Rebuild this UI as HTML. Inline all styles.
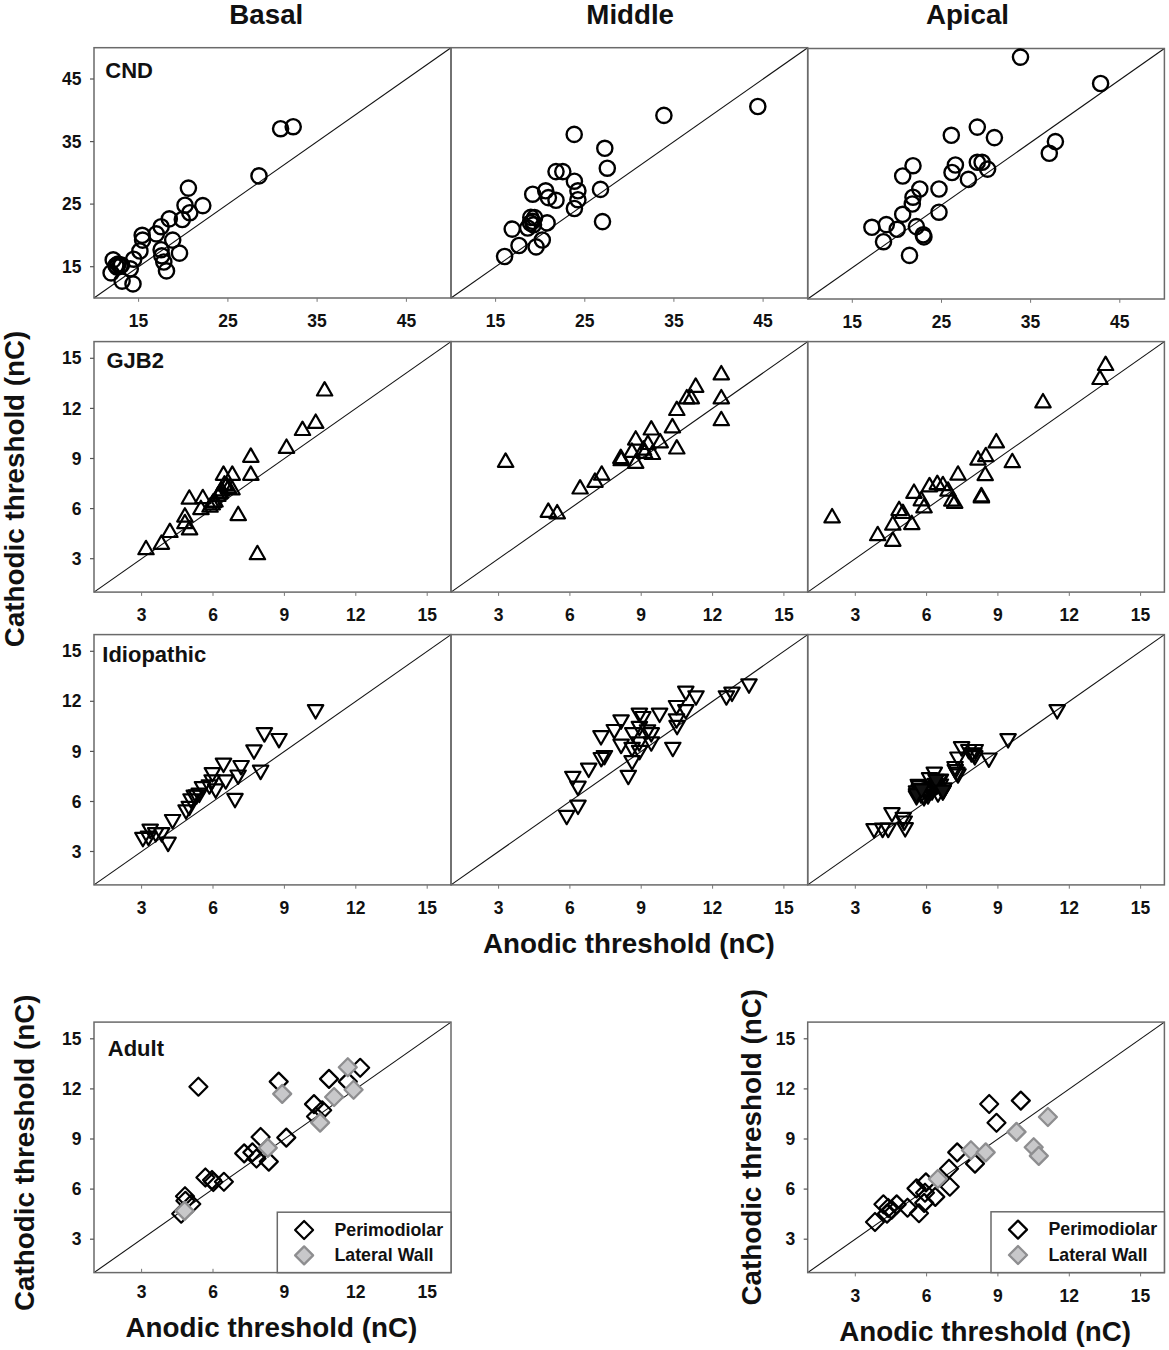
<!DOCTYPE html>
<html><head><meta charset="utf-8"><title>Threshold scatter plots</title>
<style>
html,body{margin:0;padding:0;background:#fff;}
body{width:1169px;height:1350px;overflow:hidden;}
svg{display:block;}
text{font-family:"Liberation Sans", sans-serif;font-weight:bold;fill:#111;}
.tk{font-size:17.5px;}
.pl{font-size:22px;}
.hd{font-size:27.7px;}
.ax{font-size:27.8px;}
.lg{font-size:17.8px;}
</style></head>
<body>
<svg width="1169" height="1350" viewBox="0 0 1169 1350">
<rect width="100%" height="100%" fill="#fff"/>
<line x1="94.0" y1="298.0" x2="451.0" y2="47.7" stroke="#111" stroke-width="1.1"/>
<rect x="94.0" y="47.7" width="357.0" height="250.3" fill="none" stroke="#6a6a6a" stroke-width="1.5"/>
<line x1="138.6" y1="298.0" x2="138.6" y2="301.8" stroke="#777" stroke-width="1"/>
<text x="138.6" y="327.2" text-anchor="middle" class="tk">15</text>
<line x1="227.9" y1="298.0" x2="227.9" y2="301.8" stroke="#777" stroke-width="1"/>
<text x="227.9" y="327.2" text-anchor="middle" class="tk">25</text>
<line x1="317.1" y1="298.0" x2="317.1" y2="301.8" stroke="#777" stroke-width="1"/>
<text x="317.1" y="327.2" text-anchor="middle" class="tk">35</text>
<line x1="406.4" y1="298.0" x2="406.4" y2="301.8" stroke="#777" stroke-width="1"/>
<text x="406.4" y="327.2" text-anchor="middle" class="tk">45</text>
<line x1="90.0" y1="266.7" x2="94.0" y2="266.7" stroke="#555" stroke-width="1.2"/>
<text x="81.5" y="272.8" text-anchor="end" class="tk">15</text>
<line x1="90.0" y1="204.1" x2="94.0" y2="204.1" stroke="#555" stroke-width="1.2"/>
<text x="81.5" y="210.2" text-anchor="end" class="tk">25</text>
<line x1="90.0" y1="141.6" x2="94.0" y2="141.6" stroke="#555" stroke-width="1.2"/>
<text x="81.5" y="147.7" text-anchor="end" class="tk">35</text>
<line x1="90.0" y1="79.0" x2="94.0" y2="79.0" stroke="#555" stroke-width="1.2"/>
<text x="81.5" y="85.1" text-anchor="end" class="tk">45</text>
<line x1="451.0" y1="298.0" x2="807.7" y2="47.7" stroke="#111" stroke-width="1.1"/>
<rect x="451.0" y="47.7" width="356.7" height="250.3" fill="none" stroke="#6a6a6a" stroke-width="1.5"/>
<line x1="495.6" y1="298.0" x2="495.6" y2="301.8" stroke="#777" stroke-width="1"/>
<text x="495.6" y="327.2" text-anchor="middle" class="tk">15</text>
<line x1="584.8" y1="298.0" x2="584.8" y2="301.8" stroke="#777" stroke-width="1"/>
<text x="584.8" y="327.2" text-anchor="middle" class="tk">25</text>
<line x1="673.9" y1="298.0" x2="673.9" y2="301.8" stroke="#777" stroke-width="1"/>
<text x="673.9" y="327.2" text-anchor="middle" class="tk">35</text>
<line x1="763.1" y1="298.0" x2="763.1" y2="301.8" stroke="#777" stroke-width="1"/>
<text x="763.1" y="327.2" text-anchor="middle" class="tk">45</text>
<line x1="807.7" y1="299.0" x2="1164.4" y2="48.5" stroke="#111" stroke-width="1.1"/>
<rect x="807.7" y="48.5" width="356.7" height="250.5" fill="none" stroke="#6a6a6a" stroke-width="1.5"/>
<line x1="852.3" y1="299.0" x2="852.3" y2="302.8" stroke="#777" stroke-width="1"/>
<text x="852.3" y="328.2" text-anchor="middle" class="tk">15</text>
<line x1="941.5" y1="299.0" x2="941.5" y2="302.8" stroke="#777" stroke-width="1"/>
<text x="941.5" y="328.2" text-anchor="middle" class="tk">25</text>
<line x1="1030.6" y1="299.0" x2="1030.6" y2="302.8" stroke="#777" stroke-width="1"/>
<text x="1030.6" y="328.2" text-anchor="middle" class="tk">35</text>
<line x1="1119.8" y1="299.0" x2="1119.8" y2="302.8" stroke="#777" stroke-width="1"/>
<text x="1119.8" y="328.2" text-anchor="middle" class="tk">45</text>
<line x1="94.0" y1="592.1" x2="451.0" y2="341.6" stroke="#111" stroke-width="1.1"/>
<rect x="94.0" y="341.6" width="357.0" height="250.5" fill="none" stroke="#6a6a6a" stroke-width="1.5"/>
<line x1="141.6" y1="592.1" x2="141.6" y2="595.9" stroke="#777" stroke-width="1"/>
<text x="141.6" y="621.3" text-anchor="middle" class="tk">3</text>
<line x1="213.0" y1="592.1" x2="213.0" y2="595.9" stroke="#777" stroke-width="1"/>
<text x="213.0" y="621.3" text-anchor="middle" class="tk">6</text>
<line x1="284.4" y1="592.1" x2="284.4" y2="595.9" stroke="#777" stroke-width="1"/>
<text x="284.4" y="621.3" text-anchor="middle" class="tk">9</text>
<line x1="355.8" y1="592.1" x2="355.8" y2="595.9" stroke="#777" stroke-width="1"/>
<text x="355.8" y="621.3" text-anchor="middle" class="tk">12</text>
<line x1="427.2" y1="592.1" x2="427.2" y2="595.9" stroke="#777" stroke-width="1"/>
<text x="427.2" y="621.3" text-anchor="middle" class="tk">15</text>
<line x1="90.0" y1="558.7" x2="94.0" y2="558.7" stroke="#555" stroke-width="1.2"/>
<text x="81.5" y="564.8" text-anchor="end" class="tk">3</text>
<line x1="90.0" y1="508.6" x2="94.0" y2="508.6" stroke="#555" stroke-width="1.2"/>
<text x="81.5" y="514.7" text-anchor="end" class="tk">6</text>
<line x1="90.0" y1="458.5" x2="94.0" y2="458.5" stroke="#555" stroke-width="1.2"/>
<text x="81.5" y="464.6" text-anchor="end" class="tk">9</text>
<line x1="90.0" y1="408.4" x2="94.0" y2="408.4" stroke="#555" stroke-width="1.2"/>
<text x="81.5" y="414.5" text-anchor="end" class="tk">12</text>
<line x1="90.0" y1="358.3" x2="94.0" y2="358.3" stroke="#555" stroke-width="1.2"/>
<text x="81.5" y="364.4" text-anchor="end" class="tk">15</text>
<line x1="451.0" y1="592.1" x2="807.7" y2="341.6" stroke="#111" stroke-width="1.1"/>
<rect x="451.0" y="341.6" width="356.7" height="250.5" fill="none" stroke="#6a6a6a" stroke-width="1.5"/>
<line x1="498.6" y1="592.1" x2="498.6" y2="595.9" stroke="#777" stroke-width="1"/>
<text x="498.6" y="621.3" text-anchor="middle" class="tk">3</text>
<line x1="569.9" y1="592.1" x2="569.9" y2="595.9" stroke="#777" stroke-width="1"/>
<text x="569.9" y="621.3" text-anchor="middle" class="tk">6</text>
<line x1="641.2" y1="592.1" x2="641.2" y2="595.9" stroke="#777" stroke-width="1"/>
<text x="641.2" y="621.3" text-anchor="middle" class="tk">9</text>
<line x1="712.6" y1="592.1" x2="712.6" y2="595.9" stroke="#777" stroke-width="1"/>
<text x="712.6" y="621.3" text-anchor="middle" class="tk">12</text>
<line x1="783.9" y1="592.1" x2="783.9" y2="595.9" stroke="#777" stroke-width="1"/>
<text x="783.9" y="621.3" text-anchor="middle" class="tk">15</text>
<line x1="807.7" y1="592.1" x2="1164.4" y2="341.6" stroke="#111" stroke-width="1.1"/>
<rect x="807.7" y="341.6" width="356.7" height="250.5" fill="none" stroke="#6a6a6a" stroke-width="1.5"/>
<line x1="855.3" y1="592.1" x2="855.3" y2="595.9" stroke="#777" stroke-width="1"/>
<text x="855.3" y="621.3" text-anchor="middle" class="tk">3</text>
<line x1="926.6" y1="592.1" x2="926.6" y2="595.9" stroke="#777" stroke-width="1"/>
<text x="926.6" y="621.3" text-anchor="middle" class="tk">6</text>
<line x1="997.9" y1="592.1" x2="997.9" y2="595.9" stroke="#777" stroke-width="1"/>
<text x="997.9" y="621.3" text-anchor="middle" class="tk">9</text>
<line x1="1069.3" y1="592.1" x2="1069.3" y2="595.9" stroke="#777" stroke-width="1"/>
<text x="1069.3" y="621.3" text-anchor="middle" class="tk">12</text>
<line x1="1140.6" y1="592.1" x2="1140.6" y2="595.9" stroke="#777" stroke-width="1"/>
<text x="1140.6" y="621.3" text-anchor="middle" class="tk">15</text>
<line x1="94.0" y1="884.9" x2="451.0" y2="634.6" stroke="#111" stroke-width="1.1"/>
<rect x="94.0" y="634.6" width="357.0" height="250.3" fill="none" stroke="#6a6a6a" stroke-width="1.5"/>
<line x1="141.6" y1="884.9" x2="141.6" y2="888.7" stroke="#777" stroke-width="1"/>
<text x="141.6" y="914.1" text-anchor="middle" class="tk">3</text>
<line x1="213.0" y1="884.9" x2="213.0" y2="888.7" stroke="#777" stroke-width="1"/>
<text x="213.0" y="914.1" text-anchor="middle" class="tk">6</text>
<line x1="284.4" y1="884.9" x2="284.4" y2="888.7" stroke="#777" stroke-width="1"/>
<text x="284.4" y="914.1" text-anchor="middle" class="tk">9</text>
<line x1="355.8" y1="884.9" x2="355.8" y2="888.7" stroke="#777" stroke-width="1"/>
<text x="355.8" y="914.1" text-anchor="middle" class="tk">12</text>
<line x1="427.2" y1="884.9" x2="427.2" y2="888.7" stroke="#777" stroke-width="1"/>
<text x="427.2" y="914.1" text-anchor="middle" class="tk">15</text>
<line x1="90.0" y1="851.5" x2="94.0" y2="851.5" stroke="#555" stroke-width="1.2"/>
<text x="81.5" y="857.6" text-anchor="end" class="tk">3</text>
<line x1="90.0" y1="801.5" x2="94.0" y2="801.5" stroke="#555" stroke-width="1.2"/>
<text x="81.5" y="807.6" text-anchor="end" class="tk">6</text>
<line x1="90.0" y1="751.4" x2="94.0" y2="751.4" stroke="#555" stroke-width="1.2"/>
<text x="81.5" y="757.5" text-anchor="end" class="tk">9</text>
<line x1="90.0" y1="701.3" x2="94.0" y2="701.3" stroke="#555" stroke-width="1.2"/>
<text x="81.5" y="707.4" text-anchor="end" class="tk">12</text>
<line x1="90.0" y1="651.3" x2="94.0" y2="651.3" stroke="#555" stroke-width="1.2"/>
<text x="81.5" y="657.4" text-anchor="end" class="tk">15</text>
<line x1="451.0" y1="884.9" x2="807.7" y2="634.6" stroke="#111" stroke-width="1.1"/>
<rect x="451.0" y="634.6" width="356.7" height="250.3" fill="none" stroke="#6a6a6a" stroke-width="1.5"/>
<line x1="498.6" y1="884.9" x2="498.6" y2="888.7" stroke="#777" stroke-width="1"/>
<text x="498.6" y="914.1" text-anchor="middle" class="tk">3</text>
<line x1="569.9" y1="884.9" x2="569.9" y2="888.7" stroke="#777" stroke-width="1"/>
<text x="569.9" y="914.1" text-anchor="middle" class="tk">6</text>
<line x1="641.2" y1="884.9" x2="641.2" y2="888.7" stroke="#777" stroke-width="1"/>
<text x="641.2" y="914.1" text-anchor="middle" class="tk">9</text>
<line x1="712.6" y1="884.9" x2="712.6" y2="888.7" stroke="#777" stroke-width="1"/>
<text x="712.6" y="914.1" text-anchor="middle" class="tk">12</text>
<line x1="783.9" y1="884.9" x2="783.9" y2="888.7" stroke="#777" stroke-width="1"/>
<text x="783.9" y="914.1" text-anchor="middle" class="tk">15</text>
<line x1="807.7" y1="884.9" x2="1164.4" y2="634.6" stroke="#111" stroke-width="1.1"/>
<rect x="807.7" y="634.6" width="356.7" height="250.3" fill="none" stroke="#6a6a6a" stroke-width="1.5"/>
<line x1="855.3" y1="884.9" x2="855.3" y2="888.7" stroke="#777" stroke-width="1"/>
<text x="855.3" y="914.1" text-anchor="middle" class="tk">3</text>
<line x1="926.6" y1="884.9" x2="926.6" y2="888.7" stroke="#777" stroke-width="1"/>
<text x="926.6" y="914.1" text-anchor="middle" class="tk">6</text>
<line x1="997.9" y1="884.9" x2="997.9" y2="888.7" stroke="#777" stroke-width="1"/>
<text x="997.9" y="914.1" text-anchor="middle" class="tk">9</text>
<line x1="1069.3" y1="884.9" x2="1069.3" y2="888.7" stroke="#777" stroke-width="1"/>
<text x="1069.3" y="914.1" text-anchor="middle" class="tk">12</text>
<line x1="1140.6" y1="884.9" x2="1140.6" y2="888.7" stroke="#777" stroke-width="1"/>
<text x="1140.6" y="914.1" text-anchor="middle" class="tk">15</text>
<line x1="94.0" y1="1272.6" x2="451.0" y2="1022.1" stroke="#111" stroke-width="1.1"/>
<rect x="94.0" y="1022.1" width="357.0" height="250.5" fill="none" stroke="#6a6a6a" stroke-width="1.5"/>
<line x1="141.6" y1="1272.6" x2="141.6" y2="1268.8" stroke="#777" stroke-width="1"/>
<text x="141.6" y="1297.8" text-anchor="middle" class="tk">3</text>
<line x1="213.0" y1="1272.6" x2="213.0" y2="1268.8" stroke="#777" stroke-width="1"/>
<text x="213.0" y="1297.8" text-anchor="middle" class="tk">6</text>
<line x1="284.4" y1="1272.6" x2="284.4" y2="1268.8" stroke="#777" stroke-width="1"/>
<text x="284.4" y="1297.8" text-anchor="middle" class="tk">9</text>
<line x1="355.8" y1="1272.6" x2="355.8" y2="1268.8" stroke="#777" stroke-width="1"/>
<text x="355.8" y="1297.8" text-anchor="middle" class="tk">12</text>
<line x1="427.2" y1="1272.6" x2="427.2" y2="1268.8" stroke="#777" stroke-width="1"/>
<text x="427.2" y="1297.8" text-anchor="middle" class="tk">15</text>
<line x1="90.0" y1="1239.2" x2="94.0" y2="1239.2" stroke="#555" stroke-width="1.2"/>
<text x="81.5" y="1245.3" text-anchor="end" class="tk">3</text>
<line x1="90.0" y1="1189.1" x2="94.0" y2="1189.1" stroke="#555" stroke-width="1.2"/>
<text x="81.5" y="1195.2" text-anchor="end" class="tk">6</text>
<line x1="90.0" y1="1139.0" x2="94.0" y2="1139.0" stroke="#555" stroke-width="1.2"/>
<text x="81.5" y="1145.1" text-anchor="end" class="tk">9</text>
<line x1="90.0" y1="1088.9" x2="94.0" y2="1088.9" stroke="#555" stroke-width="1.2"/>
<text x="81.5" y="1095.0" text-anchor="end" class="tk">12</text>
<line x1="90.0" y1="1038.8" x2="94.0" y2="1038.8" stroke="#555" stroke-width="1.2"/>
<text x="81.5" y="1044.9" text-anchor="end" class="tk">15</text>
<line x1="807.7" y1="1272.6" x2="1164.4" y2="1022.1" stroke="#111" stroke-width="1.1"/>
<rect x="807.7" y="1022.1" width="356.7" height="250.5" fill="none" stroke="#6a6a6a" stroke-width="1.5"/>
<line x1="855.3" y1="1272.6" x2="855.3" y2="1276.4" stroke="#777" stroke-width="1"/>
<text x="855.3" y="1301.8" text-anchor="middle" class="tk">3</text>
<line x1="926.6" y1="1272.6" x2="926.6" y2="1276.4" stroke="#777" stroke-width="1"/>
<text x="926.6" y="1301.8" text-anchor="middle" class="tk">6</text>
<line x1="997.9" y1="1272.6" x2="997.9" y2="1276.4" stroke="#777" stroke-width="1"/>
<text x="997.9" y="1301.8" text-anchor="middle" class="tk">9</text>
<line x1="1069.3" y1="1272.6" x2="1069.3" y2="1276.4" stroke="#777" stroke-width="1"/>
<text x="1069.3" y="1301.8" text-anchor="middle" class="tk">12</text>
<line x1="1140.6" y1="1272.6" x2="1140.6" y2="1276.4" stroke="#777" stroke-width="1"/>
<text x="1140.6" y="1301.8" text-anchor="middle" class="tk">15</text>
<line x1="803.7" y1="1239.2" x2="807.7" y2="1239.2" stroke="#555" stroke-width="1.2"/>
<text x="795.2" y="1245.3" text-anchor="end" class="tk">3</text>
<line x1="803.7" y1="1189.1" x2="807.7" y2="1189.1" stroke="#555" stroke-width="1.2"/>
<text x="795.2" y="1195.2" text-anchor="end" class="tk">6</text>
<line x1="803.7" y1="1139.0" x2="807.7" y2="1139.0" stroke="#555" stroke-width="1.2"/>
<text x="795.2" y="1145.1" text-anchor="end" class="tk">9</text>
<line x1="803.7" y1="1088.9" x2="807.7" y2="1088.9" stroke="#555" stroke-width="1.2"/>
<text x="795.2" y="1095.0" text-anchor="end" class="tk">12</text>
<line x1="803.7" y1="1038.8" x2="807.7" y2="1038.8" stroke="#555" stroke-width="1.2"/>
<text x="795.2" y="1044.9" text-anchor="end" class="tk">15</text>
<circle cx="188.4" cy="188.1" r="7.6" fill="none" stroke="#000" stroke-width="2.4"/>
<circle cx="185.0" cy="205.2" r="7.6" fill="none" stroke="#000" stroke-width="2.4"/>
<circle cx="202.8" cy="205.6" r="7.6" fill="none" stroke="#000" stroke-width="2.4"/>
<circle cx="189.8" cy="212.7" r="7.6" fill="none" stroke="#000" stroke-width="2.4"/>
<circle cx="182.3" cy="219.5" r="7.6" fill="none" stroke="#000" stroke-width="2.4"/>
<circle cx="169.3" cy="218.9" r="7.6" fill="none" stroke="#000" stroke-width="2.4"/>
<circle cx="161.1" cy="226.7" r="7.6" fill="none" stroke="#000" stroke-width="2.4"/>
<circle cx="156.3" cy="233.9" r="7.6" fill="none" stroke="#000" stroke-width="2.4"/>
<circle cx="142.2" cy="235.3" r="7.6" fill="none" stroke="#000" stroke-width="2.4"/>
<circle cx="142.6" cy="240.1" r="7.6" fill="none" stroke="#000" stroke-width="2.4"/>
<circle cx="139.9" cy="251.0" r="7.6" fill="none" stroke="#000" stroke-width="2.4"/>
<circle cx="133.7" cy="259.2" r="7.6" fill="none" stroke="#000" stroke-width="2.4"/>
<circle cx="172.7" cy="240.1" r="7.6" fill="none" stroke="#000" stroke-width="2.4"/>
<circle cx="161.1" cy="249.7" r="7.6" fill="none" stroke="#000" stroke-width="2.4"/>
<circle cx="161.8" cy="255.8" r="7.6" fill="none" stroke="#000" stroke-width="2.4"/>
<circle cx="163.8" cy="262.0" r="7.6" fill="none" stroke="#000" stroke-width="2.4"/>
<circle cx="166.5" cy="270.9" r="7.6" fill="none" stroke="#000" stroke-width="2.4"/>
<circle cx="179.5" cy="253.1" r="7.6" fill="none" stroke="#000" stroke-width="2.4"/>
<circle cx="113.2" cy="259.9" r="7.6" fill="none" stroke="#000" stroke-width="2.4"/>
<circle cx="118.0" cy="264.0" r="7.6" fill="none" stroke="#000" stroke-width="2.4"/>
<circle cx="120.0" cy="266.1" r="7.6" fill="none" stroke="#000" stroke-width="2.4"/>
<circle cx="111.1" cy="272.9" r="7.6" fill="none" stroke="#000" stroke-width="2.4"/>
<circle cx="130.3" cy="268.8" r="7.6" fill="none" stroke="#000" stroke-width="2.4"/>
<circle cx="122.1" cy="281.1" r="7.6" fill="none" stroke="#000" stroke-width="2.4"/>
<circle cx="133.0" cy="283.9" r="7.6" fill="none" stroke="#000" stroke-width="2.4"/>
<circle cx="259.0" cy="175.9" r="7.6" fill="none" stroke="#000" stroke-width="2.4"/>
<circle cx="280.6" cy="128.7" r="7.6" fill="none" stroke="#000" stroke-width="2.4"/>
<circle cx="293.2" cy="126.7" r="7.6" fill="none" stroke="#000" stroke-width="2.4"/>
<circle cx="117.0" cy="267.0" r="7.6" fill="none" stroke="#000" stroke-width="2.4"/>
<circle cx="121.5" cy="265.0" r="7.6" fill="none" stroke="#000" stroke-width="2.4"/>
<circle cx="116.0" cy="265.5" r="7.6" fill="none" stroke="#000" stroke-width="2.4"/>
<circle cx="574.2" cy="134.4" r="7.6" fill="none" stroke="#000" stroke-width="2.4"/>
<circle cx="604.8" cy="148.3" r="7.6" fill="none" stroke="#000" stroke-width="2.4"/>
<circle cx="607.3" cy="168.2" r="7.6" fill="none" stroke="#000" stroke-width="2.4"/>
<circle cx="556.0" cy="171.6" r="7.6" fill="none" stroke="#000" stroke-width="2.4"/>
<circle cx="562.8" cy="171.6" r="7.6" fill="none" stroke="#000" stroke-width="2.4"/>
<circle cx="574.4" cy="181.2" r="7.6" fill="none" stroke="#000" stroke-width="2.4"/>
<circle cx="577.9" cy="190.8" r="7.6" fill="none" stroke="#000" stroke-width="2.4"/>
<circle cx="577.9" cy="199.7" r="7.6" fill="none" stroke="#000" stroke-width="2.4"/>
<circle cx="574.4" cy="208.5" r="7.6" fill="none" stroke="#000" stroke-width="2.4"/>
<circle cx="600.5" cy="189.4" r="7.6" fill="none" stroke="#000" stroke-width="2.4"/>
<circle cx="602.5" cy="221.6" r="7.6" fill="none" stroke="#000" stroke-width="2.4"/>
<circle cx="532.7" cy="194.2" r="7.6" fill="none" stroke="#000" stroke-width="2.4"/>
<circle cx="545.7" cy="190.8" r="7.6" fill="none" stroke="#000" stroke-width="2.4"/>
<circle cx="548.4" cy="197.6" r="7.6" fill="none" stroke="#000" stroke-width="2.4"/>
<circle cx="556.0" cy="200.3" r="7.6" fill="none" stroke="#000" stroke-width="2.4"/>
<circle cx="530.8" cy="217.4" r="7.6" fill="none" stroke="#000" stroke-width="2.4"/>
<circle cx="534.6" cy="217.6" r="7.6" fill="none" stroke="#000" stroke-width="2.4"/>
<circle cx="530.5" cy="223.0" r="7.6" fill="none" stroke="#000" stroke-width="2.4"/>
<circle cx="547.1" cy="222.9" r="7.6" fill="none" stroke="#000" stroke-width="2.4"/>
<circle cx="512.2" cy="229.1" r="7.6" fill="none" stroke="#000" stroke-width="2.4"/>
<circle cx="519.0" cy="245.5" r="7.6" fill="none" stroke="#000" stroke-width="2.4"/>
<circle cx="536.1" cy="246.9" r="7.6" fill="none" stroke="#000" stroke-width="2.4"/>
<circle cx="542.3" cy="240.0" r="7.6" fill="none" stroke="#000" stroke-width="2.4"/>
<circle cx="504.6" cy="256.5" r="7.6" fill="none" stroke="#000" stroke-width="2.4"/>
<circle cx="527.7" cy="228.0" r="7.6" fill="none" stroke="#000" stroke-width="2.4"/>
<circle cx="532.6" cy="221.3" r="7.6" fill="none" stroke="#000" stroke-width="2.4"/>
<circle cx="533.5" cy="224.8" r="7.6" fill="none" stroke="#000" stroke-width="2.4"/>
<circle cx="663.9" cy="115.4" r="7.6" fill="none" stroke="#000" stroke-width="2.4"/>
<circle cx="757.8" cy="106.5" r="7.6" fill="none" stroke="#000" stroke-width="2.4"/>
<circle cx="951.3" cy="135.3" r="7.6" fill="none" stroke="#000" stroke-width="2.4"/>
<circle cx="977.3" cy="127.1" r="7.6" fill="none" stroke="#000" stroke-width="2.4"/>
<circle cx="994.4" cy="137.6" r="7.6" fill="none" stroke="#000" stroke-width="2.4"/>
<circle cx="913.0" cy="165.7" r="7.6" fill="none" stroke="#000" stroke-width="2.4"/>
<circle cx="902.7" cy="176.0" r="7.6" fill="none" stroke="#000" stroke-width="2.4"/>
<circle cx="955.4" cy="165.0" r="7.6" fill="none" stroke="#000" stroke-width="2.4"/>
<circle cx="952.0" cy="172.5" r="7.6" fill="none" stroke="#000" stroke-width="2.4"/>
<circle cx="977.3" cy="162.3" r="7.6" fill="none" stroke="#000" stroke-width="2.4"/>
<circle cx="982.1" cy="162.3" r="7.6" fill="none" stroke="#000" stroke-width="2.4"/>
<circle cx="987.6" cy="169.1" r="7.6" fill="none" stroke="#000" stroke-width="2.4"/>
<circle cx="968.4" cy="179.4" r="7.6" fill="none" stroke="#000" stroke-width="2.4"/>
<circle cx="939.0" cy="189.0" r="7.6" fill="none" stroke="#000" stroke-width="2.4"/>
<circle cx="919.8" cy="189.0" r="7.6" fill="none" stroke="#000" stroke-width="2.4"/>
<circle cx="913.0" cy="197.2" r="7.6" fill="none" stroke="#000" stroke-width="2.4"/>
<circle cx="912.3" cy="204.0" r="7.6" fill="none" stroke="#000" stroke-width="2.4"/>
<circle cx="902.7" cy="214.3" r="7.6" fill="none" stroke="#000" stroke-width="2.4"/>
<circle cx="939.0" cy="212.2" r="7.6" fill="none" stroke="#000" stroke-width="2.4"/>
<circle cx="871.9" cy="227.3" r="7.6" fill="none" stroke="#000" stroke-width="2.4"/>
<circle cx="886.3" cy="224.6" r="7.6" fill="none" stroke="#000" stroke-width="2.4"/>
<circle cx="897.2" cy="229.3" r="7.6" fill="none" stroke="#000" stroke-width="2.4"/>
<circle cx="916.4" cy="226.6" r="7.6" fill="none" stroke="#000" stroke-width="2.4"/>
<circle cx="923.2" cy="234.8" r="7.6" fill="none" stroke="#000" stroke-width="2.4"/>
<circle cx="923.9" cy="236.9" r="7.6" fill="none" stroke="#000" stroke-width="2.4"/>
<circle cx="883.5" cy="241.7" r="7.6" fill="none" stroke="#000" stroke-width="2.4"/>
<circle cx="909.5" cy="255.4" r="7.6" fill="none" stroke="#000" stroke-width="2.4"/>
<circle cx="1020.5" cy="57.1" r="7.6" fill="none" stroke="#000" stroke-width="2.4"/>
<circle cx="1100.6" cy="83.5" r="7.6" fill="none" stroke="#000" stroke-width="2.4"/>
<circle cx="1055.4" cy="141.6" r="7.6" fill="none" stroke="#000" stroke-width="2.4"/>
<circle cx="1049.3" cy="153.3" r="7.6" fill="none" stroke="#000" stroke-width="2.4"/>
<path d="M324.6 382.1L332.3 395.5L316.9 395.5Z" fill="none" stroke="#000" stroke-width="2.2" stroke-linejoin="round"/>
<path d="M315.7 414.5L323.4 427.9L308.0 427.9Z" fill="none" stroke="#000" stroke-width="2.2" stroke-linejoin="round"/>
<path d="M302.5 421.6L310.2 435.0L294.8 435.0Z" fill="none" stroke="#000" stroke-width="2.2" stroke-linejoin="round"/>
<path d="M286.5 439.5L294.2 452.9L278.8 452.9Z" fill="none" stroke="#000" stroke-width="2.2" stroke-linejoin="round"/>
<path d="M250.8 448.4L258.5 461.8L243.1 461.8Z" fill="none" stroke="#000" stroke-width="2.2" stroke-linejoin="round"/>
<path d="M250.8 466.4L258.5 479.8L243.1 479.8Z" fill="none" stroke="#000" stroke-width="2.2" stroke-linejoin="round"/>
<path d="M223.5 466.4L231.2 479.8L215.8 479.8Z" fill="none" stroke="#000" stroke-width="2.2" stroke-linejoin="round"/>
<path d="M232.3 466.4L240.0 479.8L224.6 479.8Z" fill="none" stroke="#000" stroke-width="2.2" stroke-linejoin="round"/>
<path d="M224.4 476.2L232.1 489.6L216.7 489.6Z" fill="none" stroke="#000" stroke-width="2.2" stroke-linejoin="round"/>
<path d="M232.0 480.9L239.7 494.3L224.3 494.3Z" fill="none" stroke="#000" stroke-width="2.2" stroke-linejoin="round"/>
<path d="M221.6 481.9L229.3 495.3L213.9 495.3Z" fill="none" stroke="#000" stroke-width="2.2" stroke-linejoin="round"/>
<path d="M217.9 487.5L225.6 500.9L210.2 500.9Z" fill="none" stroke="#000" stroke-width="2.2" stroke-linejoin="round"/>
<path d="M215.0 493.1L222.7 506.5L207.3 506.5Z" fill="none" stroke="#000" stroke-width="2.2" stroke-linejoin="round"/>
<path d="M212.2 496.0L219.9 509.4L204.5 509.4Z" fill="none" stroke="#000" stroke-width="2.2" stroke-linejoin="round"/>
<path d="M202.8 489.8L210.5 503.2L195.1 503.2Z" fill="none" stroke="#000" stroke-width="2.2" stroke-linejoin="round"/>
<path d="M189.3 490.3L197.0 503.7L181.6 503.7Z" fill="none" stroke="#000" stroke-width="2.2" stroke-linejoin="round"/>
<path d="M200.9 500.7L208.6 514.1L193.2 514.1Z" fill="none" stroke="#000" stroke-width="2.2" stroke-linejoin="round"/>
<path d="M184.9 508.2L192.6 521.6L177.2 521.6Z" fill="none" stroke="#000" stroke-width="2.2" stroke-linejoin="round"/>
<path d="M184.9 514.8L192.6 528.2L177.2 528.2Z" fill="none" stroke="#000" stroke-width="2.2" stroke-linejoin="round"/>
<path d="M189.6 521.0L197.3 534.4L181.9 534.4Z" fill="none" stroke="#000" stroke-width="2.2" stroke-linejoin="round"/>
<path d="M169.9 523.6L177.6 537.0L162.2 537.0Z" fill="none" stroke="#000" stroke-width="2.2" stroke-linejoin="round"/>
<path d="M161.4 535.5L169.1 548.9L153.7 548.9Z" fill="none" stroke="#000" stroke-width="2.2" stroke-linejoin="round"/>
<path d="M146.0 540.8L153.7 554.2L138.3 554.2Z" fill="none" stroke="#000" stroke-width="2.2" stroke-linejoin="round"/>
<path d="M238.2 506.7L245.9 520.1L230.5 520.1Z" fill="none" stroke="#000" stroke-width="2.2" stroke-linejoin="round"/>
<path d="M257.4 545.8L265.1 559.2L249.7 559.2Z" fill="none" stroke="#000" stroke-width="2.2" stroke-linejoin="round"/>
<path d="M226.5 477.3L234.2 490.7L218.8 490.7Z" fill="none" stroke="#000" stroke-width="2.2" stroke-linejoin="round"/>
<path d="M228.5 479.8L236.2 493.2L220.8 493.2Z" fill="none" stroke="#000" stroke-width="2.2" stroke-linejoin="round"/>
<path d="M220.5 484.3L228.2 497.7L212.8 497.7Z" fill="none" stroke="#000" stroke-width="2.2" stroke-linejoin="round"/>
<path d="M210.0 498.3L217.7 511.7L202.3 511.7Z" fill="none" stroke="#000" stroke-width="2.2" stroke-linejoin="round"/>
<path d="M219.5 485.3L227.2 498.7L211.8 498.7Z" fill="none" stroke="#000" stroke-width="2.2" stroke-linejoin="round"/>
<path d="M213.5 493.8L221.2 507.2L205.8 507.2Z" fill="none" stroke="#000" stroke-width="2.2" stroke-linejoin="round"/>
<path d="M505.6 453.4L513.3 466.8L497.9 466.8Z" fill="none" stroke="#000" stroke-width="2.2" stroke-linejoin="round"/>
<path d="M548.3 503.4L556.0 516.8L540.6 516.8Z" fill="none" stroke="#000" stroke-width="2.2" stroke-linejoin="round"/>
<path d="M557.2 505.0L564.9 518.4L549.5 518.4Z" fill="none" stroke="#000" stroke-width="2.2" stroke-linejoin="round"/>
<path d="M580.1 480.1L587.8 493.5L572.4 493.5Z" fill="none" stroke="#000" stroke-width="2.2" stroke-linejoin="round"/>
<path d="M595.0 473.4L602.7 486.8L587.3 486.8Z" fill="none" stroke="#000" stroke-width="2.2" stroke-linejoin="round"/>
<path d="M601.7 466.3L609.4 479.7L594.0 479.7Z" fill="none" stroke="#000" stroke-width="2.2" stroke-linejoin="round"/>
<path d="M620.8 449.6L628.5 463.0L613.1 463.0Z" fill="none" stroke="#000" stroke-width="2.2" stroke-linejoin="round"/>
<path d="M621.2 451.8L628.9 465.2L613.5 465.2Z" fill="none" stroke="#000" stroke-width="2.2" stroke-linejoin="round"/>
<path d="M635.7 454.5L643.4 467.9L628.0 467.9Z" fill="none" stroke="#000" stroke-width="2.2" stroke-linejoin="round"/>
<path d="M631.9 443.4L639.6 456.8L624.2 456.8Z" fill="none" stroke="#000" stroke-width="2.2" stroke-linejoin="round"/>
<path d="M635.7 431.2L643.4 444.6L628.0 444.6Z" fill="none" stroke="#000" stroke-width="2.2" stroke-linejoin="round"/>
<path d="M643.5 441.2L651.2 454.6L635.8 454.6Z" fill="none" stroke="#000" stroke-width="2.2" stroke-linejoin="round"/>
<path d="M647.9 435.6L655.6 449.0L640.2 449.0Z" fill="none" stroke="#000" stroke-width="2.2" stroke-linejoin="round"/>
<path d="M651.3 421.1L659.0 434.5L643.6 434.5Z" fill="none" stroke="#000" stroke-width="2.2" stroke-linejoin="round"/>
<path d="M660.2 434.0L667.9 447.4L652.5 447.4Z" fill="none" stroke="#000" stroke-width="2.2" stroke-linejoin="round"/>
<path d="M652.4 445.6L660.1 459.0L644.7 459.0Z" fill="none" stroke="#000" stroke-width="2.2" stroke-linejoin="round"/>
<path d="M672.4 418.9L680.1 432.3L664.7 432.3Z" fill="none" stroke="#000" stroke-width="2.2" stroke-linejoin="round"/>
<path d="M676.8 440.1L684.5 453.5L669.1 453.5Z" fill="none" stroke="#000" stroke-width="2.2" stroke-linejoin="round"/>
<path d="M676.8 401.6L684.5 415.0L669.1 415.0Z" fill="none" stroke="#000" stroke-width="2.2" stroke-linejoin="round"/>
<path d="M686.8 390.0L694.5 403.4L679.1 403.4Z" fill="none" stroke="#000" stroke-width="2.2" stroke-linejoin="round"/>
<path d="M691.3 390.0L699.0 403.4L683.6 403.4Z" fill="none" stroke="#000" stroke-width="2.2" stroke-linejoin="round"/>
<path d="M695.7 378.4L703.4 391.8L688.0 391.8Z" fill="none" stroke="#000" stroke-width="2.2" stroke-linejoin="round"/>
<path d="M721.3 366.0L729.0 379.4L713.6 379.4Z" fill="none" stroke="#000" stroke-width="2.2" stroke-linejoin="round"/>
<path d="M721.3 390.0L729.0 403.4L713.6 403.4Z" fill="none" stroke="#000" stroke-width="2.2" stroke-linejoin="round"/>
<path d="M721.3 411.8L729.0 425.2L713.6 425.2Z" fill="none" stroke="#000" stroke-width="2.2" stroke-linejoin="round"/>
<path d="M644.6 444.5L652.3 457.9L636.9 457.9Z" fill="none" stroke="#000" stroke-width="2.2" stroke-linejoin="round"/>
<path d="M832.1 509.0L839.8 522.4L824.4 522.4Z" fill="none" stroke="#000" stroke-width="2.2" stroke-linejoin="round"/>
<path d="M877.7 526.8L885.4 540.2L870.0 540.2Z" fill="none" stroke="#000" stroke-width="2.2" stroke-linejoin="round"/>
<path d="M892.8 532.4L900.5 545.8L885.1 545.8Z" fill="none" stroke="#000" stroke-width="2.2" stroke-linejoin="round"/>
<path d="M892.8 516.3L900.5 529.7L885.1 529.7Z" fill="none" stroke="#000" stroke-width="2.2" stroke-linejoin="round"/>
<path d="M899.1 501.7L906.8 515.1L891.4 515.1Z" fill="none" stroke="#000" stroke-width="2.2" stroke-linejoin="round"/>
<path d="M902.9 504.6L910.6 518.0L895.2 518.0Z" fill="none" stroke="#000" stroke-width="2.2" stroke-linejoin="round"/>
<path d="M911.8 515.7L919.5 529.1L904.1 529.1Z" fill="none" stroke="#000" stroke-width="2.2" stroke-linejoin="round"/>
<path d="M914.0 484.5L921.7 497.9L906.3 497.9Z" fill="none" stroke="#000" stroke-width="2.2" stroke-linejoin="round"/>
<path d="M921.3 491.9L929.0 505.3L913.6 505.3Z" fill="none" stroke="#000" stroke-width="2.2" stroke-linejoin="round"/>
<path d="M924.0 499.0L931.7 512.4L916.3 512.4Z" fill="none" stroke="#000" stroke-width="2.2" stroke-linejoin="round"/>
<path d="M929.5 477.9L937.2 491.3L921.8 491.3Z" fill="none" stroke="#000" stroke-width="2.2" stroke-linejoin="round"/>
<path d="M937.3 475.6L945.0 489.0L929.6 489.0Z" fill="none" stroke="#000" stroke-width="2.2" stroke-linejoin="round"/>
<path d="M942.9 476.8L950.6 490.2L935.2 490.2Z" fill="none" stroke="#000" stroke-width="2.2" stroke-linejoin="round"/>
<path d="M948.0 482.3L955.7 495.7L940.3 495.7Z" fill="none" stroke="#000" stroke-width="2.2" stroke-linejoin="round"/>
<path d="M951.8 492.3L959.5 505.7L944.1 505.7Z" fill="none" stroke="#000" stroke-width="2.2" stroke-linejoin="round"/>
<path d="M954.7 494.5L962.4 507.9L947.0 507.9Z" fill="none" stroke="#000" stroke-width="2.2" stroke-linejoin="round"/>
<path d="M958.0 466.3L965.7 479.7L950.3 479.7Z" fill="none" stroke="#000" stroke-width="2.2" stroke-linejoin="round"/>
<path d="M978.0 451.2L985.7 464.6L970.3 464.6Z" fill="none" stroke="#000" stroke-width="2.2" stroke-linejoin="round"/>
<path d="M985.8 447.8L993.5 461.2L978.1 461.2Z" fill="none" stroke="#000" stroke-width="2.2" stroke-linejoin="round"/>
<path d="M985.2 466.7L992.9 480.1L977.5 480.1Z" fill="none" stroke="#000" stroke-width="2.2" stroke-linejoin="round"/>
<path d="M981.4 487.9L989.1 501.3L973.7 501.3Z" fill="none" stroke="#000" stroke-width="2.2" stroke-linejoin="round"/>
<path d="M981.4 489.1L989.1 502.5L973.7 502.5Z" fill="none" stroke="#000" stroke-width="2.2" stroke-linejoin="round"/>
<path d="M996.3 434.0L1004.0 447.4L988.6 447.4Z" fill="none" stroke="#000" stroke-width="2.2" stroke-linejoin="round"/>
<path d="M1012.3 453.8L1020.0 467.2L1004.6 467.2Z" fill="none" stroke="#000" stroke-width="2.2" stroke-linejoin="round"/>
<path d="M1043.0 394.0L1050.7 407.4L1035.3 407.4Z" fill="none" stroke="#000" stroke-width="2.2" stroke-linejoin="round"/>
<path d="M1105.6 356.6L1113.3 370.0L1097.9 370.0Z" fill="none" stroke="#000" stroke-width="2.2" stroke-linejoin="round"/>
<path d="M1100.0 370.6L1107.7 384.0L1092.3 384.0Z" fill="none" stroke="#000" stroke-width="2.2" stroke-linejoin="round"/>
<path d="M315.6 718.5L323.3 705.1L307.9 705.1Z" fill="none" stroke="#000" stroke-width="2.2" stroke-linejoin="round"/>
<path d="M264.4 741.6L272.1 728.2L256.7 728.2Z" fill="none" stroke="#000" stroke-width="2.2" stroke-linejoin="round"/>
<path d="M279.0 747.4L286.7 734.0L271.3 734.0Z" fill="none" stroke="#000" stroke-width="2.2" stroke-linejoin="round"/>
<path d="M254.0 758.8L261.7 745.4L246.3 745.4Z" fill="none" stroke="#000" stroke-width="2.2" stroke-linejoin="round"/>
<path d="M260.6 779.1L268.3 765.7L252.9 765.7Z" fill="none" stroke="#000" stroke-width="2.2" stroke-linejoin="round"/>
<path d="M223.5 772.0L231.2 758.6L215.8 758.6Z" fill="none" stroke="#000" stroke-width="2.2" stroke-linejoin="round"/>
<path d="M241.1 774.4L248.8 761.0L233.4 761.0Z" fill="none" stroke="#000" stroke-width="2.2" stroke-linejoin="round"/>
<path d="M238.1 783.9L245.8 770.5L230.4 770.5Z" fill="none" stroke="#000" stroke-width="2.2" stroke-linejoin="round"/>
<path d="M212.4 781.5L220.1 768.1L204.7 768.1Z" fill="none" stroke="#000" stroke-width="2.2" stroke-linejoin="round"/>
<path d="M225.7 788.7L233.4 775.3L218.0 775.3Z" fill="none" stroke="#000" stroke-width="2.2" stroke-linejoin="round"/>
<path d="M212.1 788.7L219.8 775.3L204.4 775.3Z" fill="none" stroke="#000" stroke-width="2.2" stroke-linejoin="round"/>
<path d="M215.7 797.8L223.4 784.4L208.0 784.4Z" fill="none" stroke="#000" stroke-width="2.2" stroke-linejoin="round"/>
<path d="M209.4 793.7L217.1 780.3L201.7 780.3Z" fill="none" stroke="#000" stroke-width="2.2" stroke-linejoin="round"/>
<path d="M202.5 795.5L210.2 782.1L194.8 782.1Z" fill="none" stroke="#000" stroke-width="2.2" stroke-linejoin="round"/>
<path d="M199.3 802.0L207.0 788.6L191.6 788.6Z" fill="none" stroke="#000" stroke-width="2.2" stroke-linejoin="round"/>
<path d="M194.3 804.1L202.0 790.7L186.6 790.7Z" fill="none" stroke="#000" stroke-width="2.2" stroke-linejoin="round"/>
<path d="M191.0 807.7L198.7 794.3L183.3 794.3Z" fill="none" stroke="#000" stroke-width="2.2" stroke-linejoin="round"/>
<path d="M196.5 803.7L204.2 790.3L188.8 790.3Z" fill="none" stroke="#000" stroke-width="2.2" stroke-linejoin="round"/>
<path d="M189.3 815.2L197.0 801.8L181.6 801.8Z" fill="none" stroke="#000" stroke-width="2.2" stroke-linejoin="round"/>
<path d="M186.1 818.8L193.8 805.4L178.4 805.4Z" fill="none" stroke="#000" stroke-width="2.2" stroke-linejoin="round"/>
<path d="M235.0 807.3L242.7 793.9L227.3 793.9Z" fill="none" stroke="#000" stroke-width="2.2" stroke-linejoin="round"/>
<path d="M172.6 828.4L180.3 815.0L164.9 815.0Z" fill="none" stroke="#000" stroke-width="2.2" stroke-linejoin="round"/>
<path d="M150.2 838.0L157.9 824.6L142.5 824.6Z" fill="none" stroke="#000" stroke-width="2.2" stroke-linejoin="round"/>
<path d="M155.7 841.5L163.4 828.1L148.0 828.1Z" fill="none" stroke="#000" stroke-width="2.2" stroke-linejoin="round"/>
<path d="M161.7 841.5L169.4 828.1L154.0 828.1Z" fill="none" stroke="#000" stroke-width="2.2" stroke-linejoin="round"/>
<path d="M142.9 846.3L150.6 832.9L135.2 832.9Z" fill="none" stroke="#000" stroke-width="2.2" stroke-linejoin="round"/>
<path d="M148.5 845.1L156.2 831.7L140.8 831.7Z" fill="none" stroke="#000" stroke-width="2.2" stroke-linejoin="round"/>
<path d="M168.1 851.1L175.8 837.7L160.4 837.7Z" fill="none" stroke="#000" stroke-width="2.2" stroke-linejoin="round"/>
<path d="M749.0 692.8L756.7 679.4L741.3 679.4Z" fill="none" stroke="#000" stroke-width="2.2" stroke-linejoin="round"/>
<path d="M732.0 701.0L739.7 687.6L724.3 687.6Z" fill="none" stroke="#000" stroke-width="2.2" stroke-linejoin="round"/>
<path d="M726.4 704.7L734.1 691.3L718.7 691.3Z" fill="none" stroke="#000" stroke-width="2.2" stroke-linejoin="round"/>
<path d="M685.8 700.0L693.5 686.6L678.1 686.6Z" fill="none" stroke="#000" stroke-width="2.2" stroke-linejoin="round"/>
<path d="M696.0 704.7L703.7 691.3L688.3 691.3Z" fill="none" stroke="#000" stroke-width="2.2" stroke-linejoin="round"/>
<path d="M676.5 714.4L684.2 701.0L668.8 701.0Z" fill="none" stroke="#000" stroke-width="2.2" stroke-linejoin="round"/>
<path d="M685.8 718.5L693.5 705.1L678.1 705.1Z" fill="none" stroke="#000" stroke-width="2.2" stroke-linejoin="round"/>
<path d="M676.5 727.7L684.2 714.3L668.8 714.3Z" fill="none" stroke="#000" stroke-width="2.2" stroke-linejoin="round"/>
<path d="M677.1 734.3L684.8 720.9L669.4 720.9Z" fill="none" stroke="#000" stroke-width="2.2" stroke-linejoin="round"/>
<path d="M672.8 756.2L680.5 742.8L665.1 742.8Z" fill="none" stroke="#000" stroke-width="2.2" stroke-linejoin="round"/>
<path d="M639.4 722.0L647.1 708.6L631.7 708.6Z" fill="none" stroke="#000" stroke-width="2.2" stroke-linejoin="round"/>
<path d="M659.6 722.0L667.3 708.6L651.9 708.6Z" fill="none" stroke="#000" stroke-width="2.2" stroke-linejoin="round"/>
<path d="M642.8 725.4L650.5 712.0L635.1 712.0Z" fill="none" stroke="#000" stroke-width="2.2" stroke-linejoin="round"/>
<path d="M621.1 728.8L628.8 715.4L613.4 715.4Z" fill="none" stroke="#000" stroke-width="2.2" stroke-linejoin="round"/>
<path d="M639.4 735.3L647.1 721.9L631.7 721.9Z" fill="none" stroke="#000" stroke-width="2.2" stroke-linejoin="round"/>
<path d="M614.3 738.4L622.0 725.0L606.6 725.0Z" fill="none" stroke="#000" stroke-width="2.2" stroke-linejoin="round"/>
<path d="M647.5 738.7L655.2 725.3L639.8 725.3Z" fill="none" stroke="#000" stroke-width="2.2" stroke-linejoin="round"/>
<path d="M632.8 741.5L640.5 728.1L625.1 728.1Z" fill="none" stroke="#000" stroke-width="2.2" stroke-linejoin="round"/>
<path d="M651.3 741.5L659.0 728.1L643.6 728.1Z" fill="none" stroke="#000" stroke-width="2.2" stroke-linejoin="round"/>
<path d="M601.0 744.5L608.7 731.1L593.3 731.1Z" fill="none" stroke="#000" stroke-width="2.2" stroke-linejoin="round"/>
<path d="M651.3 750.7L659.0 737.3L643.6 737.3Z" fill="none" stroke="#000" stroke-width="2.2" stroke-linejoin="round"/>
<path d="M639.2 750.7L646.9 737.3L631.5 737.3Z" fill="none" stroke="#000" stroke-width="2.2" stroke-linejoin="round"/>
<path d="M621.1 753.1L628.8 739.7L613.4 739.7Z" fill="none" stroke="#000" stroke-width="2.2" stroke-linejoin="round"/>
<path d="M632.1 756.2L639.8 742.8L624.4 742.8Z" fill="none" stroke="#000" stroke-width="2.2" stroke-linejoin="round"/>
<path d="M639.6 759.3L647.3 745.9L631.9 745.9Z" fill="none" stroke="#000" stroke-width="2.2" stroke-linejoin="round"/>
<path d="M604.4 764.4L612.1 751.0L596.7 751.0Z" fill="none" stroke="#000" stroke-width="2.2" stroke-linejoin="round"/>
<path d="M601.3 766.4L609.0 753.0L593.6 753.0Z" fill="none" stroke="#000" stroke-width="2.2" stroke-linejoin="round"/>
<path d="M632.1 769.5L639.8 756.1L624.4 756.1Z" fill="none" stroke="#000" stroke-width="2.2" stroke-linejoin="round"/>
<path d="M588.7 777.0L596.4 763.6L581.0 763.6Z" fill="none" stroke="#000" stroke-width="2.2" stroke-linejoin="round"/>
<path d="M628.3 784.2L636.0 770.8L620.6 770.8Z" fill="none" stroke="#000" stroke-width="2.2" stroke-linejoin="round"/>
<path d="M572.8 785.2L580.5 771.8L565.1 771.8Z" fill="none" stroke="#000" stroke-width="2.2" stroke-linejoin="round"/>
<path d="M578.0 795.1L585.7 781.7L570.3 781.7Z" fill="none" stroke="#000" stroke-width="2.2" stroke-linejoin="round"/>
<path d="M578.0 814.0L585.7 800.6L570.3 800.6Z" fill="none" stroke="#000" stroke-width="2.2" stroke-linejoin="round"/>
<path d="M566.7 824.2L574.4 810.8L559.0 810.8Z" fill="none" stroke="#000" stroke-width="2.2" stroke-linejoin="round"/>
<path d="M1057.2 718.5L1064.9 705.1L1049.5 705.1Z" fill="none" stroke="#000" stroke-width="2.2" stroke-linejoin="round"/>
<path d="M1008.1 747.5L1015.8 734.1L1000.4 734.1Z" fill="none" stroke="#000" stroke-width="2.2" stroke-linejoin="round"/>
<path d="M988.9 766.9L996.6 753.5L981.2 753.5Z" fill="none" stroke="#000" stroke-width="2.2" stroke-linejoin="round"/>
<path d="M961.6 755.6L969.3 742.2L953.9 742.2Z" fill="none" stroke="#000" stroke-width="2.2" stroke-linejoin="round"/>
<path d="M968.8 758.4L976.5 745.0L961.1 745.0Z" fill="none" stroke="#000" stroke-width="2.2" stroke-linejoin="round"/>
<path d="M975.2 758.4L982.9 745.0L967.5 745.0Z" fill="none" stroke="#000" stroke-width="2.2" stroke-linejoin="round"/>
<path d="M973.9 762.2L981.6 748.8L966.2 748.8Z" fill="none" stroke="#000" stroke-width="2.2" stroke-linejoin="round"/>
<path d="M957.9 765.9L965.6 752.5L950.2 752.5Z" fill="none" stroke="#000" stroke-width="2.2" stroke-linejoin="round"/>
<path d="M955.0 775.4L962.7 762.0L947.3 762.0Z" fill="none" stroke="#000" stroke-width="2.2" stroke-linejoin="round"/>
<path d="M956.9 781.0L964.6 767.6L949.2 767.6Z" fill="none" stroke="#000" stroke-width="2.2" stroke-linejoin="round"/>
<path d="M934.3 781.0L942.0 767.6L926.6 767.6Z" fill="none" stroke="#000" stroke-width="2.2" stroke-linejoin="round"/>
<path d="M929.6 786.6L937.3 773.2L921.9 773.2Z" fill="none" stroke="#000" stroke-width="2.2" stroke-linejoin="round"/>
<path d="M939.0 788.5L946.7 775.1L931.3 775.1Z" fill="none" stroke="#000" stroke-width="2.2" stroke-linejoin="round"/>
<path d="M942.8 799.8L950.5 786.4L935.1 786.4Z" fill="none" stroke="#000" stroke-width="2.2" stroke-linejoin="round"/>
<path d="M918.3 793.2L926.0 779.8L910.6 779.8Z" fill="none" stroke="#000" stroke-width="2.2" stroke-linejoin="round"/>
<path d="M916.5 799.8L924.2 786.4L908.8 786.4Z" fill="none" stroke="#000" stroke-width="2.2" stroke-linejoin="round"/>
<path d="M916.5 804.5L924.2 791.1L908.8 791.1Z" fill="none" stroke="#000" stroke-width="2.2" stroke-linejoin="round"/>
<path d="M924.0 805.5L931.7 792.1L916.3 792.1Z" fill="none" stroke="#000" stroke-width="2.2" stroke-linejoin="round"/>
<path d="M927.7 800.8L935.4 787.4L920.0 787.4Z" fill="none" stroke="#000" stroke-width="2.2" stroke-linejoin="round"/>
<path d="M892.0 821.5L899.7 808.1L884.3 808.1Z" fill="none" stroke="#000" stroke-width="2.2" stroke-linejoin="round"/>
<path d="M903.3 826.2L911.0 812.8L895.6 812.8Z" fill="none" stroke="#000" stroke-width="2.2" stroke-linejoin="round"/>
<path d="M904.2 829.9L911.9 816.5L896.5 816.5Z" fill="none" stroke="#000" stroke-width="2.2" stroke-linejoin="round"/>
<path d="M905.2 836.5L912.9 823.1L897.5 823.1Z" fill="none" stroke="#000" stroke-width="2.2" stroke-linejoin="round"/>
<path d="M874.1 837.5L881.8 824.1L866.4 824.1Z" fill="none" stroke="#000" stroke-width="2.2" stroke-linejoin="round"/>
<path d="M882.6 837.1L890.3 823.7L874.9 823.7Z" fill="none" stroke="#000" stroke-width="2.2" stroke-linejoin="round"/>
<path d="M888.2 837.1L895.9 823.7L880.5 823.7Z" fill="none" stroke="#000" stroke-width="2.2" stroke-linejoin="round"/>
<path d="M935.3 792.3L943.0 778.9L927.6 778.9Z" fill="none" stroke="#000" stroke-width="2.2" stroke-linejoin="round"/>
<path d="M971.5 761.7L979.2 748.3L963.8 748.3Z" fill="none" stroke="#000" stroke-width="2.2" stroke-linejoin="round"/>
<path d="M974.8 764.5L982.5 751.1L967.1 751.1Z" fill="none" stroke="#000" stroke-width="2.2" stroke-linejoin="round"/>
<path d="M958.0 782.7L965.7 769.3L950.3 769.3Z" fill="none" stroke="#000" stroke-width="2.2" stroke-linejoin="round"/>
<path d="M955.3 778.4L963.0 765.0L947.6 765.0Z" fill="none" stroke="#000" stroke-width="2.2" stroke-linejoin="round"/>
<path d="M940.4 788.1L948.1 774.7L932.7 774.7Z" fill="none" stroke="#000" stroke-width="2.2" stroke-linejoin="round"/>
<path d="M940.4 792.9L948.1 779.5L932.7 779.5Z" fill="none" stroke="#000" stroke-width="2.2" stroke-linejoin="round"/>
<path d="M919.0 794.9L926.7 781.5L911.3 781.5Z" fill="none" stroke="#000" stroke-width="2.2" stroke-linejoin="round"/>
<path d="M919.0 799.0L926.7 785.6L911.3 785.6Z" fill="none" stroke="#000" stroke-width="2.2" stroke-linejoin="round"/>
<path d="M943.0 799.0L950.7 785.6L935.3 785.6Z" fill="none" stroke="#000" stroke-width="2.2" stroke-linejoin="round"/>
<path d="M930.0 796.7L937.7 783.3L922.3 783.3Z" fill="none" stroke="#000" stroke-width="2.2" stroke-linejoin="round"/>
<path d="M925.0 798.7L932.7 785.3L917.3 785.3Z" fill="none" stroke="#000" stroke-width="2.2" stroke-linejoin="round"/>
<path d="M935.0 795.7L942.7 782.3L927.3 782.3Z" fill="none" stroke="#000" stroke-width="2.2" stroke-linejoin="round"/>
<path d="M938.0 801.7L945.7 788.3L930.3 788.3Z" fill="none" stroke="#000" stroke-width="2.2" stroke-linejoin="round"/>
<path d="M921.0 802.7L928.7 789.3L913.3 789.3Z" fill="none" stroke="#000" stroke-width="2.2" stroke-linejoin="round"/>
<path d="M928.0 803.7L935.7 790.3L920.3 790.3Z" fill="none" stroke="#000" stroke-width="2.2" stroke-linejoin="round"/>
<path d="M932.0 799.7L939.7 786.3L924.3 786.3Z" fill="none" stroke="#000" stroke-width="2.2" stroke-linejoin="round"/>
<path d="M937.0 793.7L944.7 780.3L929.3 780.3Z" fill="none" stroke="#000" stroke-width="2.2" stroke-linejoin="round"/>
<path d="M944.0 796.7L951.7 783.3L936.3 783.3Z" fill="none" stroke="#000" stroke-width="2.2" stroke-linejoin="round"/>
<path d="M919.5 797.5L927.2 784.1L911.8 784.1Z" fill="none" stroke="#000" stroke-width="2.2" stroke-linejoin="round"/>
<path d="M923.3 803.7L931.0 790.3L915.6 790.3Z" fill="none" stroke="#000" stroke-width="2.2" stroke-linejoin="round"/>
<path d="M916.5 802.6L924.2 789.2L908.8 789.2Z" fill="#111" stroke="#000" stroke-width="2.2" stroke-linejoin="round"/>
<path d="M936.0 788.2L943.7 774.8L928.3 774.8Z" fill="#111" stroke="#000" stroke-width="2.2" stroke-linejoin="round"/>
<path d="M943.0 799.0L950.7 785.6L935.3 785.6Z" fill="#111" stroke="#000" stroke-width="2.2" stroke-linejoin="round"/>
<path d="M921.5 797.7L929.2 784.3L913.8 784.3Z" fill="#111" stroke="#000" stroke-width="2.2" stroke-linejoin="round"/>
<path d="M198.4 1077.7L207.4 1086.7L198.4 1095.7L189.4 1086.7Z" fill="none" stroke="#000" stroke-width="2.2" stroke-linejoin="round"/>
<path d="M278.7 1072.6L287.7 1081.6L278.7 1090.6L269.7 1081.6Z" fill="none" stroke="#000" stroke-width="2.2" stroke-linejoin="round"/>
<path d="M329.0 1069.9L338.0 1078.9L329.0 1087.9L320.0 1078.9Z" fill="none" stroke="#000" stroke-width="2.2" stroke-linejoin="round"/>
<path d="M360.2 1058.8L369.2 1067.8L360.2 1076.8L351.2 1067.8Z" fill="none" stroke="#000" stroke-width="2.2" stroke-linejoin="round"/>
<path d="M347.8 1072.6L356.8 1081.6L347.8 1090.6L338.8 1081.6Z" fill="none" stroke="#000" stroke-width="2.2" stroke-linejoin="round"/>
<path d="M314.0 1095.1L323.0 1104.1L314.0 1113.1L305.0 1104.1Z" fill="none" stroke="#000" stroke-width="2.2" stroke-linejoin="round"/>
<path d="M322.2 1101.3L331.2 1110.3L322.2 1119.3L313.2 1110.3Z" fill="none" stroke="#000" stroke-width="2.2" stroke-linejoin="round"/>
<path d="M316.0 1107.5L325.0 1116.5L316.0 1125.5L307.0 1116.5Z" fill="none" stroke="#000" stroke-width="2.2" stroke-linejoin="round"/>
<path d="M260.6 1128.0L269.6 1137.0L260.6 1146.0L251.6 1137.0Z" fill="none" stroke="#000" stroke-width="2.2" stroke-linejoin="round"/>
<path d="M286.3 1128.6L295.3 1137.6L286.3 1146.6L277.3 1137.6Z" fill="none" stroke="#000" stroke-width="2.2" stroke-linejoin="round"/>
<path d="M244.2 1144.4L253.2 1153.4L244.2 1162.4L235.2 1153.4Z" fill="none" stroke="#000" stroke-width="2.2" stroke-linejoin="round"/>
<path d="M252.4 1143.4L261.4 1152.4L252.4 1161.4L243.4 1152.4Z" fill="none" stroke="#000" stroke-width="2.2" stroke-linejoin="round"/>
<path d="M256.5 1149.5L265.5 1158.5L256.5 1167.5L247.5 1158.5Z" fill="none" stroke="#000" stroke-width="2.2" stroke-linejoin="round"/>
<path d="M268.8 1152.6L277.8 1161.6L268.8 1170.6L259.8 1161.6Z" fill="none" stroke="#000" stroke-width="2.2" stroke-linejoin="round"/>
<path d="M205.4 1168.5L214.4 1177.5L205.4 1186.5L196.4 1177.5Z" fill="none" stroke="#000" stroke-width="2.2" stroke-linejoin="round"/>
<path d="M213.3 1173.0L222.3 1182.0L213.3 1191.0L204.3 1182.0Z" fill="none" stroke="#000" stroke-width="2.2" stroke-linejoin="round"/>
<path d="M223.9 1172.8L232.9 1181.8L223.9 1190.8L214.9 1181.8Z" fill="none" stroke="#000" stroke-width="2.2" stroke-linejoin="round"/>
<path d="M185.0 1187.2L194.0 1196.2L185.0 1205.2L176.0 1196.2Z" fill="none" stroke="#000" stroke-width="2.2" stroke-linejoin="round"/>
<path d="M185.4 1191.8L194.4 1200.8L185.4 1209.8L176.4 1200.8Z" fill="none" stroke="#000" stroke-width="2.2" stroke-linejoin="round"/>
<path d="M191.3 1195.0L200.3 1204.0L191.3 1213.0L182.3 1204.0Z" fill="none" stroke="#000" stroke-width="2.2" stroke-linejoin="round"/>
<path d="M181.2 1204.7L190.2 1213.7L181.2 1222.7L172.2 1213.7Z" fill="none" stroke="#000" stroke-width="2.2" stroke-linejoin="round"/>
<path d="M212.0 1171.0L221.0 1180.0L212.0 1189.0L203.0 1180.0Z" fill="none" stroke="#000" stroke-width="2.2" stroke-linejoin="round"/>
<path d="M989.2 1095.0L998.2 1104.0L989.2 1113.0L980.2 1104.0Z" fill="none" stroke="#000" stroke-width="2.2" stroke-linejoin="round"/>
<path d="M1020.8 1091.6L1029.8 1100.6L1020.8 1109.6L1011.8 1100.6Z" fill="none" stroke="#000" stroke-width="2.2" stroke-linejoin="round"/>
<path d="M996.5 1113.8L1005.5 1122.8L996.5 1131.8L987.5 1122.8Z" fill="none" stroke="#000" stroke-width="2.2" stroke-linejoin="round"/>
<path d="M957.2 1143.4L966.2 1152.4L957.2 1161.4L948.2 1152.4Z" fill="none" stroke="#000" stroke-width="2.2" stroke-linejoin="round"/>
<path d="M975.0 1154.6L984.0 1163.6L975.0 1172.6L966.0 1163.6Z" fill="none" stroke="#000" stroke-width="2.2" stroke-linejoin="round"/>
<path d="M949.0 1159.7L958.0 1168.7L949.0 1177.7L940.0 1168.7Z" fill="none" stroke="#000" stroke-width="2.2" stroke-linejoin="round"/>
<path d="M949.8 1177.7L958.8 1186.7L949.8 1195.7L940.8 1186.7Z" fill="none" stroke="#000" stroke-width="2.2" stroke-linejoin="round"/>
<path d="M925.9 1173.4L934.9 1182.4L925.9 1191.4L916.9 1182.4Z" fill="none" stroke="#000" stroke-width="2.2" stroke-linejoin="round"/>
<path d="M916.5 1179.4L925.5 1188.4L916.5 1197.4L907.5 1188.4Z" fill="none" stroke="#000" stroke-width="2.2" stroke-linejoin="round"/>
<path d="M925.0 1183.7L934.0 1192.7L925.0 1201.7L916.0 1192.7Z" fill="none" stroke="#000" stroke-width="2.2" stroke-linejoin="round"/>
<path d="M935.3 1187.9L944.3 1196.9L935.3 1205.9L926.3 1196.9Z" fill="none" stroke="#000" stroke-width="2.2" stroke-linejoin="round"/>
<path d="M924.2 1193.9L933.2 1202.9L924.2 1211.9L915.2 1202.9Z" fill="none" stroke="#000" stroke-width="2.2" stroke-linejoin="round"/>
<path d="M907.5 1198.7L916.5 1207.7L907.5 1216.7L898.5 1207.7Z" fill="none" stroke="#000" stroke-width="2.2" stroke-linejoin="round"/>
<path d="M919.0 1204.2L928.0 1213.2L919.0 1222.2L910.0 1213.2Z" fill="none" stroke="#000" stroke-width="2.2" stroke-linejoin="round"/>
<path d="M883.4 1195.3L892.4 1204.3L883.4 1213.3L874.4 1204.3Z" fill="none" stroke="#000" stroke-width="2.2" stroke-linejoin="round"/>
<path d="M896.7 1195.4L905.7 1204.4L896.7 1213.4L887.7 1204.4Z" fill="none" stroke="#000" stroke-width="2.2" stroke-linejoin="round"/>
<path d="M888.2 1199.0L897.2 1208.0L888.2 1217.0L879.2 1208.0Z" fill="none" stroke="#000" stroke-width="2.2" stroke-linejoin="round"/>
<path d="M887.0 1204.6L896.0 1213.6L887.0 1222.6L878.0 1213.6Z" fill="none" stroke="#000" stroke-width="2.2" stroke-linejoin="round"/>
<path d="M875.0 1213.0L884.0 1222.0L875.0 1231.0L866.0 1222.0Z" fill="none" stroke="#000" stroke-width="2.2" stroke-linejoin="round"/>
<path d="M891.7 1200.8L900.7 1209.8L891.7 1218.8L882.7 1209.8Z" fill="none" stroke="#000" stroke-width="2.2" stroke-linejoin="round"/>
<path d="M282.2 1084.9L291.2 1093.9L282.2 1102.9L273.2 1093.9Z" fill="#c8c8ca" stroke="#8e8e90" stroke-width="2.3" stroke-linejoin="round"/>
<path d="M347.8 1058.2L356.8 1067.2L347.8 1076.2L338.8 1067.2Z" fill="#c8c8ca" stroke="#8e8e90" stroke-width="2.3" stroke-linejoin="round"/>
<path d="M334.1 1088.0L343.1 1097.0L334.1 1106.0L325.1 1097.0Z" fill="#c8c8ca" stroke="#8e8e90" stroke-width="2.3" stroke-linejoin="round"/>
<path d="M353.6 1080.8L362.6 1089.8L353.6 1098.8L344.6 1089.8Z" fill="#c8c8ca" stroke="#8e8e90" stroke-width="2.3" stroke-linejoin="round"/>
<path d="M320.1 1113.6L329.1 1122.6L320.1 1131.6L311.1 1122.6Z" fill="#c8c8ca" stroke="#8e8e90" stroke-width="2.3" stroke-linejoin="round"/>
<path d="M267.8 1138.9L276.8 1147.9L267.8 1156.9L258.8 1147.9Z" fill="#c8c8ca" stroke="#8e8e90" stroke-width="2.3" stroke-linejoin="round"/>
<path d="M184.6 1201.9L193.6 1210.9L184.6 1219.9L175.6 1210.9Z" fill="#c8c8ca" stroke="#8e8e90" stroke-width="2.3" stroke-linejoin="round"/>
<path d="M1047.9 1108.0L1056.9 1117.0L1047.9 1126.0L1038.9 1117.0Z" fill="#c8c8ca" stroke="#8e8e90" stroke-width="2.3" stroke-linejoin="round"/>
<path d="M1016.5 1122.9L1025.5 1131.9L1016.5 1140.9L1007.5 1131.9Z" fill="#c8c8ca" stroke="#8e8e90" stroke-width="2.3" stroke-linejoin="round"/>
<path d="M970.9 1141.2L979.9 1150.2L970.9 1159.2L961.9 1150.2Z" fill="#c8c8ca" stroke="#8e8e90" stroke-width="2.3" stroke-linejoin="round"/>
<path d="M985.7 1143.4L994.7 1152.4L985.7 1161.4L976.7 1152.4Z" fill="#c8c8ca" stroke="#8e8e90" stroke-width="2.3" stroke-linejoin="round"/>
<path d="M1033.7 1138.3L1042.7 1147.3L1033.7 1156.3L1024.7 1147.3Z" fill="#c8c8ca" stroke="#8e8e90" stroke-width="2.3" stroke-linejoin="round"/>
<path d="M1038.8 1146.9L1047.8 1155.9L1038.8 1164.9L1029.8 1155.9Z" fill="#c8c8ca" stroke="#8e8e90" stroke-width="2.3" stroke-linejoin="round"/>
<path d="M937.8 1170.0L946.8 1179.0L937.8 1188.0L928.8 1179.0Z" fill="#c8c8ca" stroke="#8e8e90" stroke-width="2.3" stroke-linejoin="round"/>
<rect x="277.3" y="1212.2" width="173.7" height="60.4" fill="#fff" stroke="#6a6a6a" stroke-width="1.5"/>
<path d="M304.1 1221.0L313.1 1230.0L304.1 1239.0L295.1 1230.0Z" fill="none" stroke="#000" stroke-width="2.2" stroke-linejoin="round"/>
<path d="M304.1 1246.4L313.1 1255.4L304.1 1264.4L295.1 1255.4Z" fill="#c8c8ca" stroke="#8e8e90" stroke-width="2.3" stroke-linejoin="round"/>
<text x="334.4" y="1235.8" class="lg">Perimodiolar</text>
<text x="334.4" y="1261.3" class="lg">Lateral Wall</text>
<rect x="991.0" y="1211.8" width="173.4" height="60.8" fill="#fff" stroke="#6a6a6a" stroke-width="1.5"/>
<path d="M1018.0 1220.6L1027.0 1229.6L1018.0 1238.6L1009.0 1229.6Z" fill="none" stroke="#000" stroke-width="2.2" stroke-linejoin="round"/>
<path d="M1018.0 1246.0L1027.0 1255.0L1018.0 1264.0L1009.0 1255.0Z" fill="#c8c8ca" stroke="#8e8e90" stroke-width="2.3" stroke-linejoin="round"/>
<text x="1048.4" y="1235.4" class="lg">Perimodiolar</text>
<text x="1048.4" y="1260.9" class="lg">Lateral Wall</text>
<text x="105.3" y="78.3" class="pl">CND</text>
<text x="106.5" y="368.0" class="pl">GJB2</text>
<text x="102.3" y="661.7" class="pl">Idiopathic</text>
<text x="107.8" y="1055.9" class="pl">Adult</text>
<text x="266.3" y="23.7" text-anchor="middle" class="hd">Basal</text>
<text x="630.2" y="23.8" text-anchor="middle" class="hd">Middle</text>
<text x="967.5" y="23.8" text-anchor="middle" class="hd">Apical</text>
<text x="628.8" y="952.8" text-anchor="middle" class="ax">Anodic threshold (nC)</text>
<text x="271.4" y="1336.7" text-anchor="middle" class="ax">Anodic threshold (nC)</text>
<text x="985.2" y="1340.6" text-anchor="middle" class="ax">Anodic threshold (nC)</text>
<text transform="translate(24.2 488.9) rotate(-90)" text-anchor="middle" class="ax">Cathodic threshold (nC)</text>
<text transform="translate(34.0 1152.7) rotate(-90)" text-anchor="middle" class="ax">Cathodic threshold (nC)</text>
<text transform="translate(760.6 1147.3) rotate(-90)" text-anchor="middle" class="ax">Cathodic threshold (nC)</text>
</svg>
</body></html>
